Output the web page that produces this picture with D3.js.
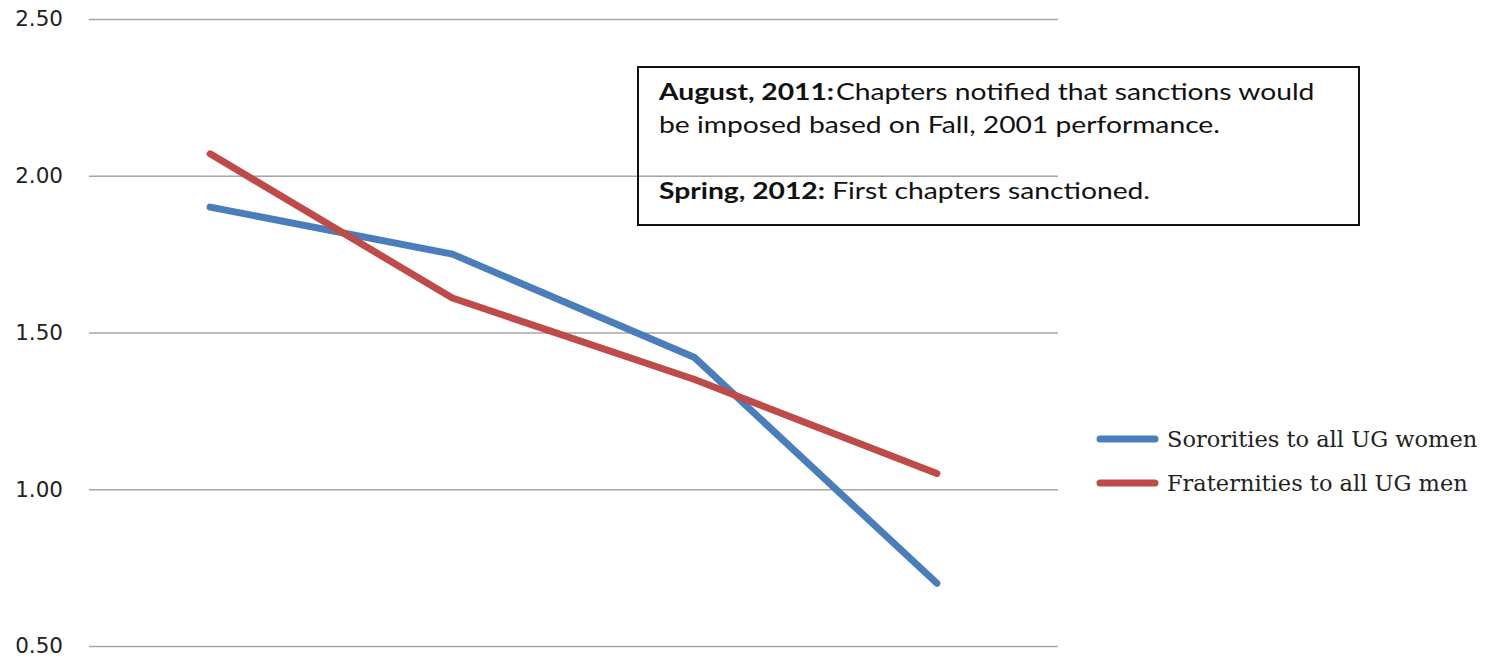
<!DOCTYPE html>
<html>
<head>
<meta charset="utf-8">
<script src="https://cdn.jsdelivr.net/npm/d3@7"></script>
<style>
  body { margin: 0; background: #fff; }
</style>
</head>
<body>
<div id="chart"></div>
<script>
const periods = ["P1", "P2", "P3", "P4"]
const sororities = [1.90, 1.75, 1.42, 0.70]
const fraternities = [2.07, 1.61, 1.35, 1.05]
const yTicks = [0.5, 1.0, 1.5, 2.0, 2.5]

const seriesNames = ["Sororities to all UG women", "Fraternities to all UG men"]
const seriesColors = ["#4a7ebb", "#be4b48"]

const noteLines = [
  { bold: "August, 2011:", rest: "\u200aChapters notified that sanctions would" },
  { bold: "", rest: "be imposed based on Fall, 2001 performance." },
  { bold: "", rest: "" },
  { bold: "Spring, 2012:", rest: " First chapters sanctioned." }
]

function createChart() {
  const W = 1501
  const H = 659
  const margin = { top: 19, right: 443, bottom: 13, left: 89 }
  const width = W - margin.left - margin.right
  const height = H - margin.top - margin.bottom

  const svg = d3.select("#chart")
    .append("svg")
    .attr("width", W)
    .attr("height", H)

  const g = svg.append("g").attr("transform", `translate(${margin.left},${margin.top})`)

  const x = d3.scaleBand().domain(periods).range([0, width])
  const y = d3.scaleLinear().domain([0.5, 2.5]).range([height, 0])

  // gridlines + tick labels
  const yAxis = g.append("g")
    .call(d3.axisLeft(y).tickValues(yTicks).tickFormat(d3.format(".2f")).tickSize(-width).tickPadding(26))
  yAxis.select(".domain").remove()
  yAxis.selectAll(".tick line").attr("stroke", "#a6a6a6").attr("stroke-width", 1.5)
  yAxis.selectAll(".tick text")
    .attr("font-family", "DejaVu Sans, sans-serif")
    .attr("font-size", "21.5px")
    .attr("fill", "#222")

  const line = d3.line()
    .x((d, i) => x(periods[i]) + x.bandwidth() / 2)
    .y((d) => y(d))

  const data = [sororities, fraternities]
  g.selectAll(".series")
    .data(data)
    .enter()
    .append("path")
    .attr("class", "series")
    .attr("d", (d) => line(d))
    .attr("fill", "none")
    .attr("stroke", (d, i) => seriesColors[i])
    .attr("stroke-width", 7)
    .attr("stroke-linecap", "round")
    .attr("stroke-linejoin", "round")

  // note box (the source text is stretched sideways, so scale it the same way)
  const note = svg.append("g").attr("transform", "translate(638,67)")
  note.append("rect")
    .attr("width", 721)
    .attr("height", 158)
    .attr("fill", "none")
    .attr("stroke", "#111")
    .attr("stroke-width", 2)

  const noteText = note.append("text")
    .attr("transform", "translate(21,0) scale(1.255,1)")
    .attr("font-family", "Lato, sans-serif")
    .attr("font-size", "22.5px")
    .attr("fill", "#111")
  noteLines.forEach((l, i) => {
    const t = noteText.append("tspan").attr("x", 0).attr("y", 33 + i * 33)
    if (l.bold) t.append("tspan").attr("font-weight", "bold").text(l.bold)
    t.append("tspan").text(l.rest)
  })

  // legend
  const legend = svg.append("g").attr("transform", "translate(1097,439)")
  const items = legend.selectAll(".item")
    .data(seriesNames)
    .enter()
    .append("g")
    .attr("class", "item")
    .attr("transform", (d, i) => `translate(0,${i * 44})`)
  items.append("line")
    .attr("x1", 3).attr("x2", 58)
    .attr("stroke", (d, i) => seriesColors[i])
    .attr("stroke-width", 7)
    .attr("stroke-linecap", "round")
  items.append("text")
    .attr("x", 70)
    .attr("dy", "0.35em")
    .attr("font-family", "DejaVu Serif, serif")
    .attr("font-size", "22.5px")
    .attr("fill", "#222")
    .text((d) => d)
}

createChart()
</script>
</body>
</html>
